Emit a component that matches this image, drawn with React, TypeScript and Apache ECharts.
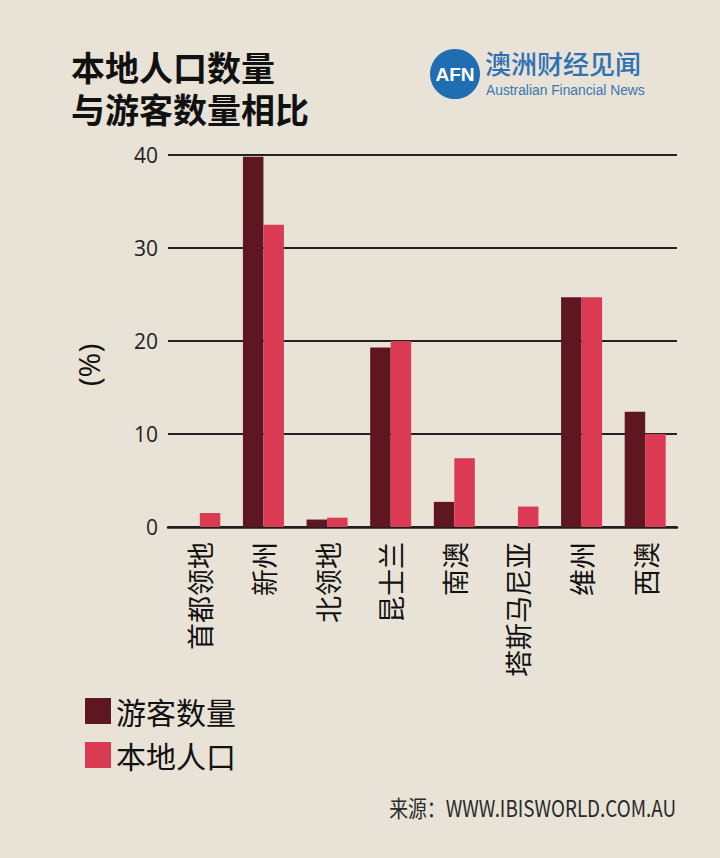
import React, { useEffect, useRef } from "react";
import * as echarts from "echarts";

const categories = ["首都领地", "新州", "北领地", "昆士兰", "南澳", "塔斯马尼亚", "维州", "西澳"];
const visitors = [0, 39.8, 0.8, 19.3, 2.7, 0, 24.7, 12.4];
const locals = [1.5, 32.5, 1.0, 20.0, 7.4, 2.2, 24.7, 10.0];
const seriesNames = ["游客数量", "本地人口"];
const yTicks = { min: 0, max: 40, interval: 10 };
const titleText = "本地人口数量\n与游客数量相比";
const yAxisName = "(%)";
const sourceText = "来源：WWW.IBISWORLD.COM.AU";

export default function App() {
  const ref = useRef<HTMLDivElement>(null);
  useEffect(() => {
    if (!ref.current) return;
    const chart = echarts.init(ref.current, undefined, { renderer: "svg" });
    const cjk = '"Noto Sans CJK SC", "Noto Sans", sans-serif';
    chart.setOption({
      animation: false,
      backgroundColor: "#e8e3d6",
      title: {
        text: titleText,
        left: 66,
        top: 40,
        textStyle: { fontSize: 34, fontWeight: "bold", color: "#111", lineHeight: 42, fontFamily: cjk },
      },
      legend: {
        orient: "vertical",
        left: 85,
        top: 696,
        padding: 0,
        itemWidth: 26,
        itemHeight: 26,
        itemGap: 14,
        icon: "rect",
        data: seriesNames,
        textStyle: { fontSize: 30, color: "#111", fontFamily: cjk },
      },
      grid: { left: 168, right: 43, top: 155, bottom: 331, containLabel: false },
      xAxis: {
        type: "category",
        data: categories,
        axisLine: { show: true, lineStyle: { color: "#1e1e1e", width: 2.5 } },
        axisTick: { show: false },
        axisLabel: { rotate: 90, interval: 0, margin: 15, fontSize: 27, color: "#111", fontFamily: cjk },
      },
      yAxis: {
        type: "value",
        min: yTicks.min,
        max: yTicks.max,
        interval: yTicks.interval,
        axisLine: { show: false },
        axisTick: { show: false },
        axisLabel: { margin: 10, fontSize: 21, color: "#1e1e1e", fontFamily: '"Open Sans", sans-serif' },
        splitLine: { lineStyle: { color: "#222", width: 2 } },
      },
      series: [
        { name: seriesNames[0], type: "bar", data: visitors, barWidth: 20.5, barGap: "0%", itemStyle: { color: "#5e1720" } },
        { name: seriesNames[1], type: "bar", data: locals, barWidth: 20.5, barGap: "0%", itemStyle: { color: "#db3b52" } },
      ],
      graphic: [
        {
          type: "text",
          x: 88,
          y: 365,
          rotation: Math.PI / 2,
          style: { text: yAxisName, fill: "#111", fontSize: 30, fontFamily: '"Open Sans", sans-serif', align: "center", verticalAlign: "middle" },
        },
        { type: "circle", shape: { cx: 455, cy: 74, r: 25 }, style: { fill: "#1f6db3" } },
        {
          type: "text",
          x: 455,
          y: 74,
          style: { text: "AFN", fill: "#fff", fontSize: 19, fontWeight: "bold", fontFamily: '"Liberation Sans", sans-serif', align: "center", verticalAlign: "middle" },
        },
        {
          type: "text",
          x: 485,
          y: 62,
          style: { text: "澳洲财经见闻", fill: "#2f72b3", fontSize: 26, fontWeight: 500, fontFamily: cjk, verticalAlign: "middle" },
        },
        {
          type: "text",
          x: 486,
          y: 90,
          style: { text: "Australian Financial News", fill: "#3a76b3", fontSize: 13.8, fontFamily: '"Liberation Sans", sans-serif', verticalAlign: "middle" },
        },
        {
          type: "text",
          x: 676,
          y: 807,
          scaleX: 0.82,
          style: { text: sourceText, fill: "#2a2a2a", fontSize: 23, fontFamily: cjk, align: "right", verticalAlign: "middle" },
        },
      ],
    });
    return () => chart.dispose();
  }, []);
  return <div ref={ref} style={{ position: "fixed", left: 0, top: 0, width: 720, height: 858 }} />;
}
